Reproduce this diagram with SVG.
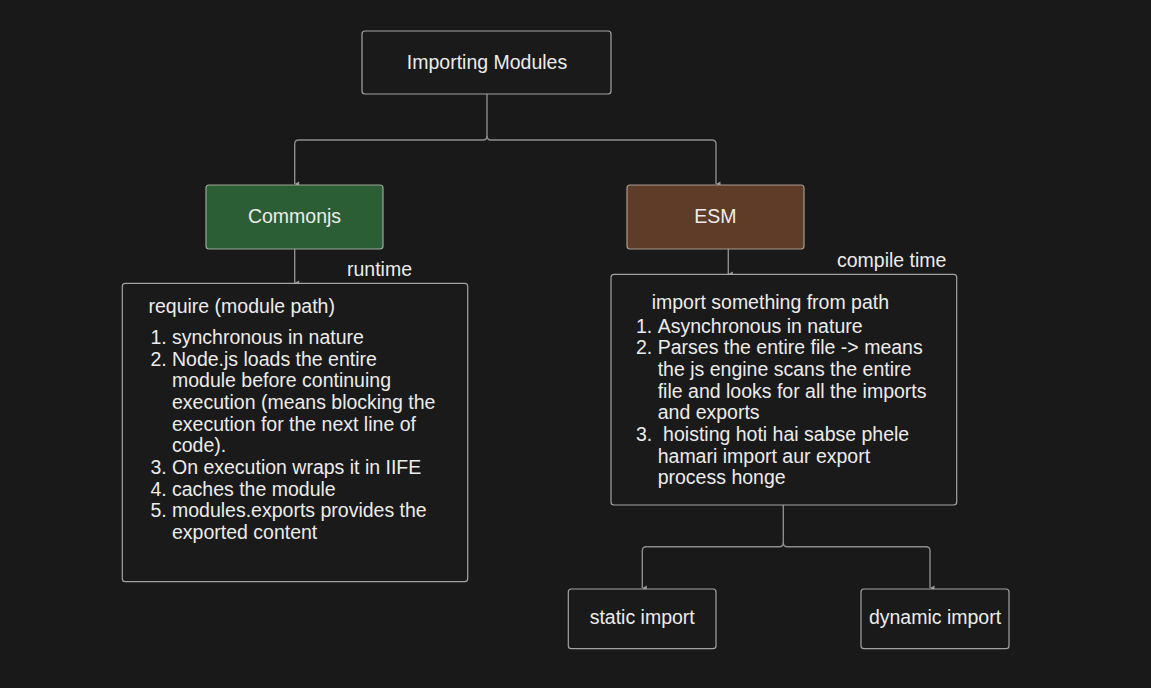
<svg xmlns="http://www.w3.org/2000/svg" width="1151" height="688" viewBox="0 0 1151 688">
<defs>
<marker id="arr" viewBox="0 0 6 5" refX="3" refY="5" markerWidth="6" markerHeight="5" markerUnits="userSpaceOnUse" orient="auto-start-reverse">
<path d="M0.5,0.5 L3,5 L5.5,0.5 Z" fill="#9a9a9a"/>
</marker>
<style>
.box{fill:#1a1a1a;stroke:#a3a3a3;stroke-width:1.2}
.t{font-family:"Liberation Sans",Arial,sans-serif;font-size:19.5px;fill:#ececec}
.c{text-anchor:middle}
.ln{fill:none;stroke:#8c8c8c;stroke-width:1.4}
</style>
</defs>
<rect width="1151" height="688" fill="#191919"/>
<g id="connectors">
<path class="ln" d="M487,94 V136 Q487,140 483,140 H298.7 Q294.7,140 294.7,144 V184" marker-end="url(#arr)"/>
<path class="ln" d="M487,136 Q487,140 491,140 H712 Q716,140 716,144 V184" marker-end="url(#arr)"/>
<path class="ln" d="M294.7,249 V283" marker-end="url(#arr)"/>
<path class="ln" d="M728.3,249 V274" marker-end="url(#arr)"/>
<path class="ln" d="M783.3,505 V542.7 Q783.3,546.7 779.3,546.7 H646.3 Q642.3,546.7 642.3,550.7 V588" marker-end="url(#arr)"/>
<path class="ln" d="M783.3,542.7 Q783.3,546.7 787.3,546.7 H926 Q930,546.7 930,550.7 V588" marker-end="url(#arr)"/>
</g>
<g id="importing-modules">
<rect class="box" x="362" y="31" width="249" height="63" rx="3"/>
<text class="t c" x="487" y="69">Importing Modules</text>
</g>
<g id="commonjs">
<rect x="206" y="185" width="177" height="64" rx="3" fill="#2c5e36" stroke="#9aa89c" stroke-width="1.2"/>
<text class="t c" x="294.5" y="223">Commonjs</text>
</g>
<g id="esm">
<rect x="627" y="185" width="177" height="64" rx="3" fill="#5e3c27" stroke="#a89a90" stroke-width="1.2"/>
<text class="t c" x="715.5" y="223">ESM</text>
</g>
<g id="runtime-label">
<text class="t" x="347" y="276">runtime</text>
</g>
<g id="compile-time-label">
<text class="t" x="837" y="267">compile time</text>
</g>
<g id="commonjs-details">
<rect class="box" x="122.3" y="283.3" width="345.4" height="298.4" rx="3"/>
<text class="t" x="148.5" y="313">require (module path)</text>
<text class="t" x="150.5" y="344">1.</text><text class="t" x="172" y="344">synchronous in nature</text>
<text class="t" x="150.5" y="365.7">2.</text><text class="t" x="172" y="365.7">Node.js loads the entire</text>
<text class="t" x="172" y="387.3">module before continuing</text>
<text class="t" x="172" y="409">execution (means blocking the</text>
<text class="t" x="172" y="430.6">execution for the next line of</text>
<text class="t" x="172" y="452.3">code).</text>
<text class="t" x="150.5" y="474">3.</text><text class="t" x="172" y="474">On execution wraps it in IIFE</text>
<text class="t" x="150.5" y="495.6">4.</text><text class="t" x="172" y="495.6">caches the module</text>
<text class="t" x="150.5" y="517.3">5.</text><text class="t" x="172" y="517.3">modules.exports provides the</text>
<text class="t" x="172" y="539">exported content</text>
</g>
<g id="esm-details">
<rect class="box" x="611" y="274.3" width="345.7" height="230.7" rx="3"/>
<text class="t" x="651.7" y="309.3">import something from path</text>
<text class="t" x="636" y="332.7">1.</text><text class="t" x="657.7" y="332.7">Asynchronous in nature</text>
<text class="t" x="636" y="354.3">2.</text><text class="t" x="657.7" y="354.3">Parses the entire file -&gt; means</text>
<text class="t" x="657.7" y="376">the js engine scans the entire</text>
<text class="t" x="657.7" y="397.7">file and looks for all the imports</text>
<text class="t" x="657.7" y="419.3">and exports</text>
<text class="t" x="636" y="441">3.</text><text class="t" x="657.7" y="441" xml:space="preserve"> hoisting hoti hai sabse phele</text>
<text class="t" x="657.7" y="462.7">hamari import aur export</text>
<text class="t" x="657.7" y="484.3">process honge</text>
</g>
<g id="static-import">
<rect class="box" x="568.3" y="589" width="147.7" height="59.7" rx="3"/>
<text class="t c" x="642.2" y="624">static import</text>
</g>
<g id="dynamic-import">
<rect class="box" x="861" y="589" width="148" height="59.7" rx="3"/>
<text class="t c" x="935" y="624">dynamic import</text>
</g>
</svg>
